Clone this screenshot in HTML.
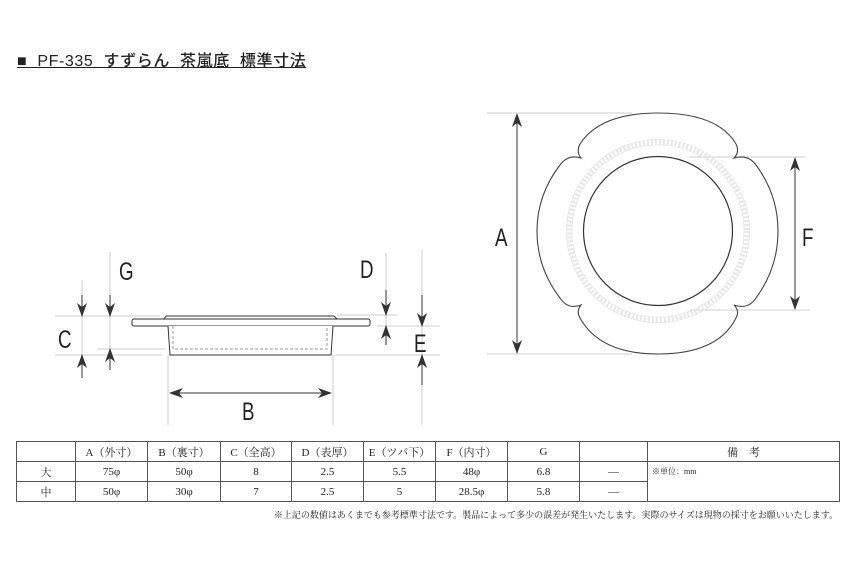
<!DOCTYPE html>
<html><head><meta charset="utf-8"><style>
body{margin:0;background:#fff;width:850px;height:567px;position:relative;overflow:hidden;font-family:"Liberation Serif","Noto Serif CJK SC",serif}
.t{position:absolute;left:17px;top:47px;font:500 16px "Liberation Sans","Noto Sans CJK JP",sans-serif;color:#222;text-decoration:underline;letter-spacing:0.6px;white-space:pre}
table{position:absolute;left:16px;top:441px;border-collapse:collapse;font-size:11px;color:#222}
td{border:1px solid #555;height:19px;padding:0;text-align:center}
.n{position:absolute;right:12px;top:508px;font-size:9px;color:#222}
</style></head><body>
<div class="t">■  PF-335  すずらん  茶嵐底  標準寸法</div>
<svg width="850" height="567" style="position:absolute;left:0;top:0">
<defs>
<marker id="ar" markerWidth="14" markerHeight="10" refX="13" refY="5" orient="auto" markerUnits="userSpaceOnUse"><path d="M0,0 L14,5 L0,10 L4,5Z" fill="#333"/></marker>
</defs>
<g stroke="#ccc" stroke-width="1" fill="none">
<line x1="55" y1="316" x2="160" y2="316"/><line x1="55" y1="355" x2="162" y2="355"/>
<line x1="97" y1="349" x2="165" y2="349"/><line x1="337" y1="315" x2="397" y2="315"/>
<line x1="377" y1="326" x2="440" y2="326"/><line x1="335" y1="355" x2="440" y2="355"/>
<line x1="168" y1="355" x2="168" y2="425"/><line x1="333" y1="355" x2="333" y2="425"/>
<line x1="82" y1="280" x2="82" y2="378"/><line x1="110" y1="252" x2="110" y2="370"/>
<line x1="386" y1="253" x2="386" y2="345"/><line x1="422" y1="250" x2="422" y2="425"/>
<line x1="487" y1="113" x2="632" y2="113"/><line x1="487" y1="354" x2="632" y2="354"/>
<line x1="690" y1="157" x2="805" y2="157"/><line x1="690" y1="310" x2="810" y2="310"/>
</g>
<g stroke="#333" stroke-width="1" fill="none">
<line x1="82" y1="295" x2="82" y2="316" marker-end="url(#ar)"/><line x1="82" y1="378" x2="82" y2="355" marker-end="url(#ar)"/>
<line x1="110" y1="295" x2="110" y2="316" marker-end="url(#ar)"/><line x1="110" y1="370" x2="110" y2="349" marker-end="url(#ar)"/>
<line x1="386" y1="290" x2="386" y2="315" marker-end="url(#ar)"/><line x1="386" y1="345" x2="386" y2="326" marker-end="url(#ar)"/>
<line x1="422" y1="295" x2="422" y2="326" marker-end="url(#ar)"/><line x1="422" y1="385" x2="422" y2="355" marker-end="url(#ar)"/>
<line x1="250" y1="393" x2="170" y2="393" marker-end="url(#ar)"/><line x1="250" y1="393" x2="331" y2="393" marker-end="url(#ar)"/>
<line x1="517" y1="230" x2="517" y2="114" marker-end="url(#ar)"/><line x1="517" y1="230" x2="517" y2="353" marker-end="url(#ar)"/>
<line x1="795" y1="230" x2="795" y2="158" marker-end="url(#ar)"/><line x1="795" y1="230" x2="795" y2="309" marker-end="url(#ar)"/>
</g>
<g stroke="#333" stroke-width="1" fill="#fff">
<path d="M164,319 L166,316 L334,316 L337,319"/>
<rect x="132" y="319" width="238" height="7" rx="2"/>
<path d="M168,326 L170,355 L331,355 L333,326"/>
</g>
<path d="M173,326 L173,349 L327,349 L327,326" stroke="#999" stroke-dasharray="3,2" fill="none"/>
<circle cx="658" cy="231" r="89" fill="none" stroke="#e6e6e6" stroke-width="6" stroke-dasharray="2,2"/>
<circle cx="658" cy="231" r="91.5" fill="none" stroke="#e8e8e8" stroke-width="0.8"/>
<circle cx="658" cy="231" r="86" fill="none" stroke="#e8e8e8" stroke-width="0.8"/>
<circle cx="658" cy="231" r="74.5" fill="none" stroke="#333" stroke-width="1.2"/>
<path d="M581,158 Q576,152 580,144 Q600,113 658,113 Q718,113 736,144 Q740,152 734,158 Q748,154 756,165 Q778,195 778,231 Q778,268 756,298 Q748,310 734,305 Q740,311 736,318 Q718,354 658,354 Q600,354 580,318 Q576,311 581,305 Q568,310 560,298 Q537,268 537,231 Q537,195 560,165 Q568,154 581,158Z" fill="none" stroke="#444" stroke-width="1.1"/>
<g font-family="Liberation Sans,sans-serif" font-size="25" fill="#222">
<text x="119" y="280" transform="scale(0.75,1)" transform-origin="119 280">G</text>
<text x="58" y="348" transform="scale(0.75,1)" transform-origin="58 348">C</text>
<text x="360" y="278" transform="scale(0.75,1)" transform-origin="360 278">D</text>
<text x="414" y="352" transform="scale(0.75,1)" transform-origin="414 352">E</text>
<text x="242" y="420" transform="scale(0.75,1)" transform-origin="242 420">B</text>
<text x="495" y="246" transform="scale(0.75,1)" transform-origin="495 246">A</text>
<text x="802" y="246" transform="scale(0.75,1)" transform-origin="802 246">F</text>
</g>
</svg>
<table>
<tr><td style="width:58px"></td><td style="width:71px">A（外寸）</td><td style="width:72px">B（裏寸）</td><td style="width:70px">C（全高）</td><td style="width:71px">D（表厚）</td><td style="width:71px">E（ツバ下）</td><td style="width:71px">F（内寸）</td><td style="width:71px">G</td><td style="width:67px"></td><td style="width:191px">備　考</td></tr>
<tr><td>大</td><td>75φ</td><td>50φ</td><td>8</td><td>2.5</td><td>5.5</td><td>48φ</td><td>6.8</td><td>—</td><td rowspan="2" style="text-align:left;vertical-align:top;font-size:8px;padding:4px 4px">※単位：mm</td></tr>
<tr><td>中</td><td>50φ</td><td>30φ</td><td>7</td><td>2.5</td><td>5</td><td>28.5φ</td><td>5.8</td><td>—</td></tr>
</table>
<div class="n">※上記の数値はあくまでも参考標準寸法です。製品によって多少の誤差が発生いたします。実際のサイズは現物の採寸をお願いいたします。</div>
</body></html>
